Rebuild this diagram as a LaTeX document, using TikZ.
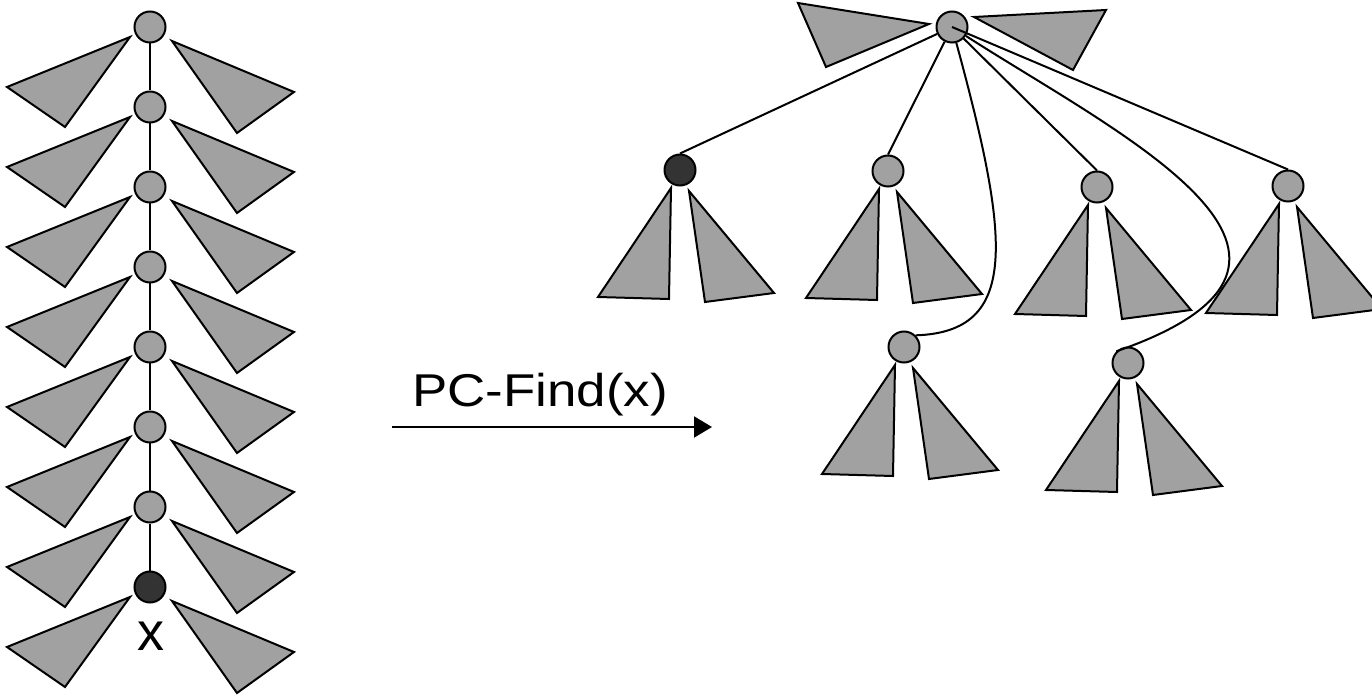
\documentclass[tikz,border=0pt]{standalone}
\usepackage{fontspec}
\setmainfont{Liberation Sans}
\usetikzlibrary{arrows.meta}

\begin{document}
\begin{tikzpicture}[x=0.5pt, y=-0.5pt]
                \tikzset{ vtx/.style={circle,draw,line width=1pt,fill=black!37,minimum size=15.5pt,inner sep=0pt},
                        dvtx/.style={vtx,fill=black!80},
                        subtree/.style={draw,line width=1pt,fill=black!37,line join=miter},
                        edge/.style={line width=1pt},
                        arrow/.style={-{Triangle[length=9pt,width=10.5pt]}, line width=1pt}}
                \useasboundingbox (0,0) rectangle (1372,695);

                % Chaine avant PC-Find
                \foreach \i in {1,...,7}
                    \node[vtx] (l\i) at (150,{80*\i-53}) {};
                \node[dvtx] (l8) at (150,587) {};
                \node[anchor=base, font=\fontsize{27}{30}\selectfont] (lx) at (151,650) {x};
                \foreach \i [count=\j from 2] in {1,...,7}
                    \draw[edge] (l\i) -- (l\j);
                \foreach \i in {1,...,8} {
                    \draw[subtree, shift={(l\i)}] (-20,10) -- (-143,60) -- (-85,100) -- cycle;
                    \draw[subtree, shift={(l\i)}] (22,14) -- (144,65) -- (87,106) -- cycle;
                }

                % PC-Find(x)
                \coordinate (a0) at (392,427);
                \coordinate (a1) at (712,427);
                \draw[arrow] (a0) -- (a1);
                \node[anchor=base, font=\fontsize{23}{26}\selectfont] (op) at (540,407) {\scalebox{1.15}[1]{PC-Find(x)}};

                % Arbre apres compression
                \node[vtx] (r) at (952,27) {};
                \draw[subtree, shift={(r)}] (-154,-24) -- (-23,-3) -- (-126,40) -- cycle;
                \draw[subtree, shift={(r)}] (22,-10) -- (154,-17) -- (121,43) -- cycle;
                \node[dvtx] (c1) at (680,170) {};
                \node[vtx] (c2) at (888,171) {};
                \node[vtx] (c3) at (1097,187) {};
                \node[vtx] (c4) at (1288,186) {};
                \node[vtx] (c5) at (904,347) {};
                \node[vtx] (c6) at (1128,363) {};
                \foreach \c in {c1,c2,c3,c4,c5,c6} {
                    \draw[subtree, shift={(\c)}] (-9,18) -- (-82,127) -- (-11,129) -- cycle;
                    \draw[subtree, shift={(\c)}] (9,21) -- (94,123) -- (25,132) -- cycle;
                }

                % Fleches
                \draw[edge] (r) -- (c1.north);
                \draw[edge] (r) -- (c2.north);
                \draw[edge] (r) -- (c3.north);
                \draw[edge] (r.center) -- (c4.north);
                \draw[edge] (r) .. controls (1010,240) and (1020,332) .. (c5.north east);
                \draw[edge] (r) .. controls (1120,135) and (1380,260) .. (c6.north west);

            \end{tikzpicture}
\end{document}
